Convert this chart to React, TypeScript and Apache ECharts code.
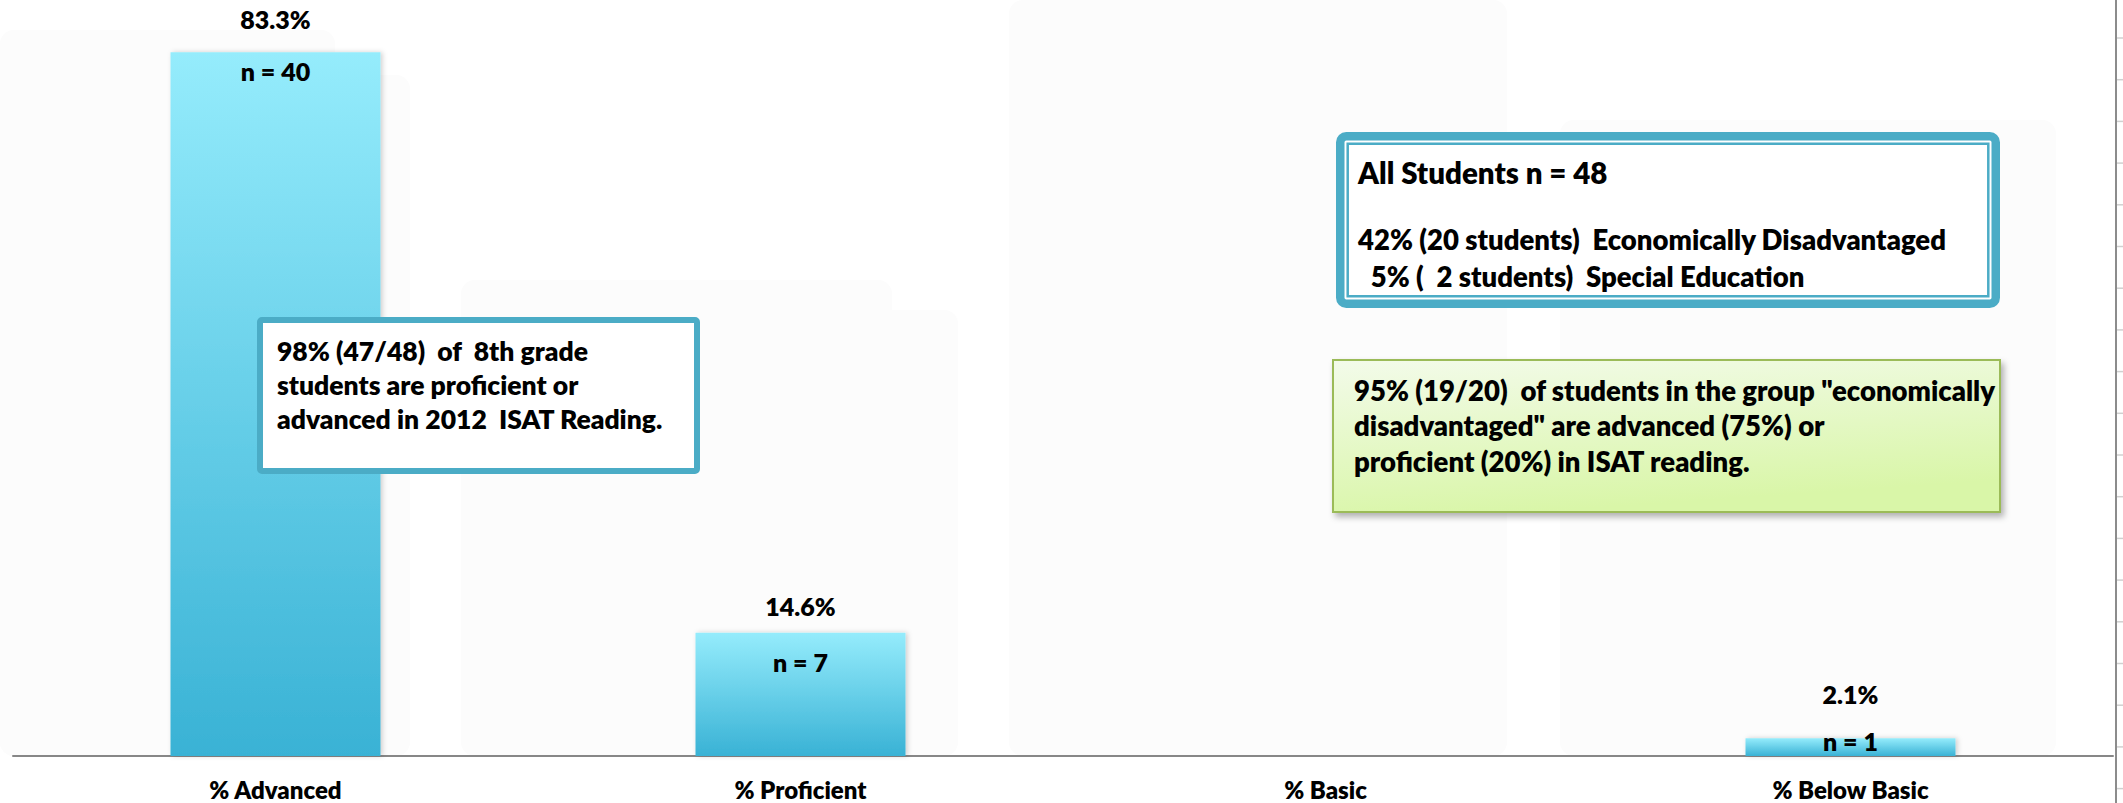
import React, { useEffect, useRef } from "react";
import * as echarts from "echarts";

// 2012 ISAT Reading, 8th grade: share of students per performance level
const categories = ["% Advanced", "% Proficient", "% Basic", "% Below Basic"];
const percentValues = [83.3, 14.6, 0, 2.1];
const studentCounts = [40, 7, 0, 1];

const summaryLines = [
  "98% (47/48)  of  8th grade",
  "students are proficient or",
  "advanced in 2012  ISAT Reading.",
];
const groupTitle = "All Students n = 48";
const groupLines = [
  "42% (20 students)  Economically Disadvantaged",
  "  5% (  2 students)  Special Education",
];
const econLines = [
  "95% (19/20)  of students in the group \"economically",
  "disadvantaged\" are advanced (75%) or",
  "proficient (20%) in ISAT reading.",
];

const FONT = "Lato";
const WEIGHT = 800;

export default function App() {
  const ref = useRef<HTMLDivElement>(null);

  useEffect(() => {
    if (!ref.current) return;
    const chart = echarts.init(ref.current, null, { renderer: "svg" });

    // hand-placed label lifts (px) for the percentage and count labels
    const pctLift = [21, 14, 0, 32];
    const countDrop = [6.5, 16.5, 0, -9.5];

    const barGradient = new echarts.graphic.LinearGradient(0, 0, 0, 1, [
      { offset: 0, color: "#95ECFC" },
      { offset: 1, color: "#39B2D5" },
    ]);

    const textEl = (t: string, x: number, y: number, size: number) => ({
      type: "text",
      z: 20,
      style: {
        text: t,
        x,
        y,
        fontFamily: FONT,
        fontWeight: WEIGHT,
        fontSize: size,
        fill: "#000",
        verticalAlign: "middle",
        align: "left",
      },
    });

    const faint = "#FCFCFC";
    const backdrop = [
      { x: 0, y: 30, w: 335, h: 726 },
      { x: 0, y: 75, w: 410, h: 681 },
      { x: 461, y: 280, w: 431, h: 476 },
      { x: 880, y: 310, w: 78, h: 446 },
      { x: 1009, y: 0, w: 498, h: 756 },
      { x: 1560, y: 120, w: 496, h: 636 },
    ].map((b) => ({
      type: "rect",
      z: -5,
      silent: true,
      shape: { x: b.x, y: b.y, width: b.w, height: b.h, r: 14 },
      style: { fill: faint },
    }));

    const edgeTicks: any[] = [];
    for (let y = 38; y < 803; y += 41.7) {
      edgeTicks.push({
        type: "line",
        z: 5,
        silent: true,
        shape: { x1: 2117, y1: y, x2: 2123, y2: y },
        style: { stroke: "#D0D0D0", lineWidth: 1.5 },
      });
    }

    chart.setOption({
      animation: false,
      backgroundColor: "#FFFFFF",
      grid: { left: 13, right: 10, top: 0, bottom: 47, containLabel: false },
      xAxis: {
        type: "category",
        data: categories,
        axisLine: { show: true, lineStyle: { color: "#878787", width: 2 } },
        axisTick: { show: false },
        axisLabel: {
          margin: 21,
          color: "#000",
          fontFamily: FONT,
          fontWeight: WEIGHT,
          fontSize: 24,
        },
        splitLine: { show: false },
      },
      yAxis: {
        type: "value",
        min: 0,
        max: 89.5,
        show: false,
        splitLine: { show: false },
      },
      series: [
        {
          type: "bar",
          barWidth: "40%",
          z: 2,
          itemStyle: {
            color: barGradient,
            shadowBlur: 5,
            shadowOffsetX: 2,
            shadowColor: "rgba(0,0,0,0.18)",
          },
          label: {
            show: true,
            position: "top",
            distance: 0,
            color: "#000",
            fontFamily: FONT,
            fontWeight: WEIGHT,
            fontSize: 25,
            formatter: (p: any) => (p.value > 0 ? `${p.value.toFixed(1)}%` : ""),
          },
          data: percentValues.map((v, i) => ({
            value: v,
            label: { offset: [0, -pctLift[i]] },
          })),
        },
        {
          type: "bar",
          barWidth: "40%",
          barGap: "-100%",
          z: 3,
          silent: true,
          itemStyle: { color: "rgba(0,0,0,0)" },
          label: {
            show: true,
            position: "insideTop",
            distance: 0,
            color: "#000",
            fontFamily: FONT,
            fontWeight: WEIGHT,
            fontSize: 25,
            formatter: (p: any) =>
              studentCounts[p.dataIndex] > 0 ? `n = ${studentCounts[p.dataIndex]}` : "",
          },
          data: percentValues.map((v, i) => ({
            value: v,
            label: { offset: [0, countDrop[i]] },
          })),
        },
      ],
      graphic: {
        elements: [
          ...backdrop,
          // spreadsheet edge on the right
          {
            type: "line",
            z: 5,
            silent: true,
            shape: { x1: 2116, y1: 0, x2: 2116, y2: 803 },
            style: { stroke: "#8C8C8C", lineWidth: 2 },
          },
          ...edgeTicks,
          // proficiency summary box
          {
            type: "rect",
            z: 20,
            shape: { x: 260, y: 320, width: 437, height: 151, r: 2 },
            style: { fill: "#FFFFFF", stroke: "#4BACC6", lineWidth: 6 },
          },
          ...summaryLines.map((t, i) => textEl(t, 277, [351, 385, 419][i], 26.5)),
          // student group box (double border)
          {
            type: "rect",
            z: 20,
            shape: { x: 1340.25, y: 136.25, width: 655.5, height: 167.5, r: 6 },
            style: { fill: "#FFFFFF", stroke: "#4BACC6", lineWidth: 8.5 },
          },
          {
            type: "rect",
            z: 21,
            shape: { x: 1347.7, y: 143.7, width: 640.6, height: 152.6 },
            style: { fill: "none", stroke: "#4BACC6", lineWidth: 2.5 },
          },
          textEl(groupTitle, 1358, 172, 29.5),
          ...groupLines.map((t, i) => textEl(t, 1358, [239, 276][i], 27.5)),
          // economically disadvantaged note
          {
            type: "rect",
            z: 20,
            shape: { x: 1333, y: 360, width: 667, height: 152 },
            style: {
              fill: new echarts.graphic.LinearGradient(0, 0, 0.3, 1, [
                { offset: 0, color: "#F3FBEA" },
                { offset: 1, color: "#D9F6A8" },
              ]),
              stroke: "#9BBB59",
              lineWidth: 2,
              shadowBlur: 6,
              shadowOffsetX: 3,
              shadowOffsetY: 4,
              shadowColor: "rgba(0,0,0,0.3)",
            },
          },
          ...econLines.map((t, i) => textEl(t, 1354, [390, 425, 461][i], 27.5)),
        ],
      },
    });

    return () => chart.dispose();
  }, []);

  return (
    <div
      ref={ref}
      style={{ position: "fixed", left: 0, top: 0, width: 2123, height: 803 }}
    />
  );
}
